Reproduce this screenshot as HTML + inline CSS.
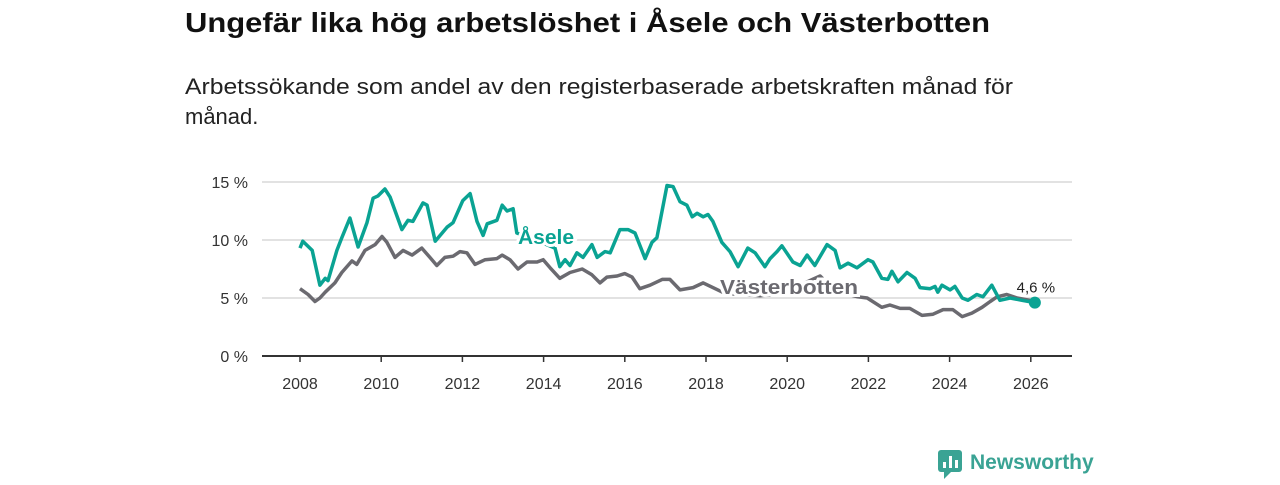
<!DOCTYPE html>
<html><head><meta charset="utf-8"><style>
body{margin:0;background:#fff;width:1280px;height:480px;overflow:hidden;font-family:"Liberation Sans",sans-serif}
</style></head><body>
<svg id="c" width="1280" height="480" xmlns="http://www.w3.org/2000/svg" font-family="Liberation Sans, sans-serif">
<text x="185" y="32" font-size="28" font-weight="bold" fill="#111" textLength="805" lengthAdjust="spacingAndGlyphs">Ungefär lika hög arbetslöshet i Åsele och Västerbotten</text>
<text x="185" y="94" font-size="22" fill="#222" textLength="828" lengthAdjust="spacingAndGlyphs">Arbetssökande som andel av den registerbaserade arbetskraften månad för</text>
<text x="185" y="124" font-size="22" fill="#222">månad.</text>
<g id="grid"></g>
<g id="xax"></g>
<g id="lines"></g>
<g>
<rect x="938" y="450" width="24" height="22" rx="3" fill="#3aa394"/>
<path d="M944 472 L944 479 L951 472 Z" fill="#3aa394"/>
<rect x="943" y="462" width="3" height="6" fill="#fff"/><rect x="949" y="456" width="3" height="12" fill="#fff"/><rect x="955" y="460" width="3" height="8" fill="#fff"/>
<text x="970" y="469" font-size="21" font-weight="bold" fill="#3aa394">Newsworthy</text>
</g>
</svg>
<script>
const yTicks=[0,5,10,15];
const yTickLabels=["0 %","5 %","10 %","15 %"];
const xTicks=[2008,2010,2012,2014,2016,2018,2020,2022,2024,2026];
const aseleDates=[2008.00,2008.07,2008.30,2008.49,2008.62,2008.69,2008.91,2009.03,2009.23,2009.43,2009.65,2009.80,2009.92,2010.09,2010.22,2010.51,2010.66,2010.78,2011.03,2011.13,2011.33,2011.62,2011.77,2012.01,2012.19,2012.36,2012.51,2012.61,2012.85,2012.98,2013.10,2013.25,2013.34,2013.80,2014.28,2014.40,2014.53,2014.65,2014.82,2014.97,2015.19,2015.32,2015.51,2015.64,2015.88,2016.08,2016.25,2016.50,2016.67,2016.79,2017.04,2017.19,2017.36,2017.53,2017.66,2017.78,2017.93,2018.05,2018.17,2018.39,2018.59,2018.79,2019.03,2019.21,2019.45,2019.58,2019.75,2019.87,2020.14,2020.32,2020.49,2020.68,2020.98,2021.18,2021.30,2021.50,2021.72,2021.99,2022.11,2022.33,2022.48,2022.58,2022.73,2022.95,2023.15,2023.27,2023.52,2023.64,2023.71,2023.81,2024.01,2024.13,2024.31,2024.45,2024.67,2024.82,2025.04,2025.24,2025.49,2025.78,2026.10];
const aseleValues=[9.3,9.9,9.1,6.1,6.7,6.5,9.1,10.2,11.9,9.4,11.5,13.6,13.8,14.4,13.7,10.9,11.7,11.6,13.2,13.0,9.9,11.1,11.5,13.4,14.0,11.6,10.4,11.4,11.7,13.0,12.5,12.7,10.6,10.0,9.3,7.7,8.3,7.8,8.9,8.5,9.6,8.5,9.0,8.9,10.9,10.9,10.6,8.4,9.8,10.2,14.7,14.6,13.3,13.0,12.0,12.3,12.0,12.2,11.6,9.8,9.0,7.7,9.3,8.9,7.7,8.4,9.0,9.5,8.1,7.8,8.7,7.8,9.6,9.1,7.6,8.0,7.6,8.3,8.1,6.7,6.6,7.3,6.4,7.2,6.7,5.9,5.8,6.0,5.5,6.1,5.7,6.0,5.0,4.8,5.3,5.1,6.1,4.8,5.0,4.8,4.6];
const vbDates=[2008.00,2008.20,2008.37,2008.49,2008.62,2008.86,2009.03,2009.28,2009.40,2009.60,2009.85,2010.02,2010.14,2010.34,2010.54,2010.76,2011.00,2011.20,2011.37,2011.57,2011.77,2011.94,2012.11,2012.31,2012.56,2012.85,2012.98,2013.17,2013.37,2013.59,2013.84,2013.99,2014.16,2014.40,2014.65,2014.95,2015.19,2015.39,2015.56,2015.81,2016.00,2016.18,2016.37,2016.62,2016.92,2017.11,2017.36,2017.68,2017.93,2018.17,2018.47,2019.33,2020.07,2020.49,2020.81,2021.18,2021.74,2021.97,2022.33,2022.53,2022.78,2023.02,2023.32,2023.59,2023.84,2024.08,2024.31,2024.55,2024.80,2025.00,2025.17,2025.41,2025.66,2025.98];
const vbValues=[5.8,5.3,4.7,5.0,5.5,6.3,7.2,8.2,7.9,9.1,9.6,10.3,9.8,8.5,9.1,8.7,9.3,8.5,7.8,8.5,8.6,9.0,8.9,7.9,8.3,8.4,8.7,8.3,7.5,8.1,8.1,8.3,7.6,6.7,7.2,7.5,7.0,6.3,6.8,6.9,7.1,6.8,5.8,6.1,6.6,6.6,5.7,5.9,6.3,5.9,5.4,5.2,5.4,6.4,6.9,5.6,5.1,5.0,4.2,4.4,4.1,4.1,3.5,3.6,4.0,4.0,3.4,3.7,4.2,4.7,5.1,5.3,5.0,4.8];
const NS="http://www.w3.org/2000/svg";
const X=y=>300+(y-2008)*40.6;
const Y=v=>356-v*11.6;
function mk(tag,attrs,parent){const e=document.createElementNS(NS,tag);for(const k in attrs)e.setAttribute(k,attrs[k]);parent.appendChild(e);return e;}
const grid=document.getElementById('grid'),xax=document.getElementById('xax'),lines=document.getElementById('lines');
yTicks.forEach((t,i)=>{
  if(t>0){const l=mk('line',{x1:262,x2:1072,y1:Y(t),y2:Y(t),stroke:'#d9d9d9','stroke-width':1.5},grid);
  
  }
  const tx=mk('text',{x:248,y:Y(t)+6,'font-size':16,'text-anchor':'end',fill:'#333'},grid);
  tx.textContent=yTickLabels[i];
  
  
});
const ax=mk('line',{x1:262,x2:1072,y1:Y(0),y2:Y(0),stroke:'#333','stroke-width':2},xax);


xTicks.forEach(t=>{
  const tk=mk('line',{x1:X(t),x2:X(t),y1:356,y2:362,stroke:'#333','stroke-width':1.5},xax);
  
  
  const tx=mk('text',{x:X(t),y:389,'font-size':16,'text-anchor':'middle',fill:'#333'},xax);
  tx.textContent=t;
  
  
});
function path(d,v){return d.map((y,i)=>(i?'L':'M')+X(y).toFixed(1)+' '+Y(v[i]).toFixed(1)).join(' ');}
const vb=mk('path',{d:path(vbDates,vbValues),fill:'none',stroke:'#6b6a70','stroke-width':3.5,'stroke-linejoin':'round'},lines);


const as=mk('path',{d:path(aseleDates,aseleValues),fill:'none',stroke:'#0aa393','stroke-width':3.5,'stroke-linejoin':'round'},lines);


const n=aseleDates.length-1;
const dot=mk('circle',{cx:X(aseleDates[n]),cy:Y(aseleValues[n]),r:6,fill:'#0aa393'},lines);


const lastL=mk('text',{x:X(aseleDates[n])+1,y:Y(aseleValues[n])-10,'font-size':15,'text-anchor':'middle',fill:'#222',stroke:'#fff','stroke-width':4,'paint-order':'stroke'},lines);
lastL.textContent='4,6 %';


const la=mk('text',{x:518,y:244,'font-size':20,'font-weight':'bold',fill:'#0aa393',stroke:'#fff','stroke-width':6,'paint-order':'stroke',textLength:56,lengthAdjust:'spacingAndGlyphs'},lines);
la.textContent='Åsele';


const lv=mk('text',{x:720,y:294,'font-size':20,'font-weight':'bold',fill:'#6b6a70',stroke:'#fff','stroke-width':6,'paint-order':'stroke',textLength:138,lengthAdjust:'spacingAndGlyphs'},lines);
lv.textContent='Västerbotten';


</script>
</body></html>
